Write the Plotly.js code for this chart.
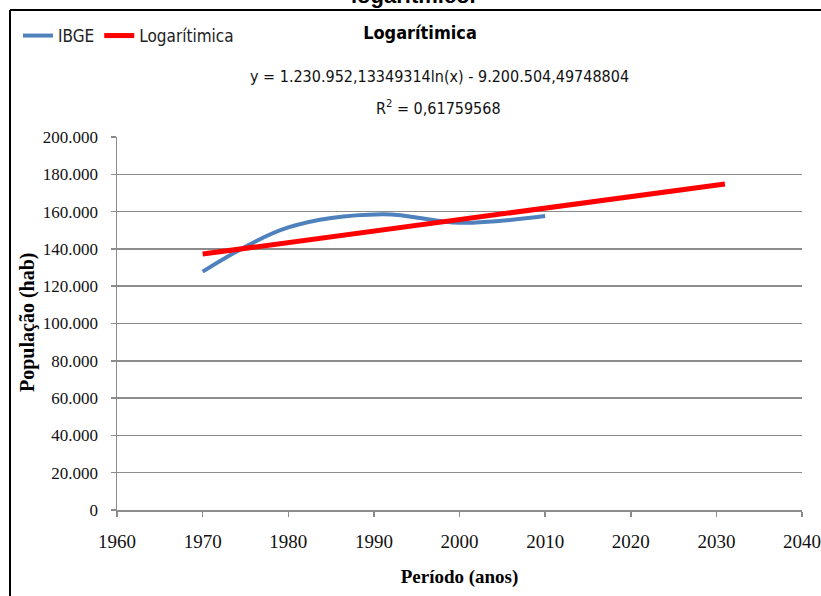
<!DOCTYPE html>
<html>
<head>
<meta charset="utf-8">
<script src="https://cdn.plot.ly/plotly-3.0.1.min.js"></script>
<style>
html,body{margin:0;padding:0;background:#fff;}
#chart{width:821px;height:596px;}
</style>
</head>
<body>
<div id="chart"></div>
<script>
// IBGE census data
const ibgeYears = [1970, 1980, 1991, 2000, 2010];
const ibgePop = [127800, 151500, 158600, 154000, 157600];

// Logarithmic trendline values (from displayed equation) incl. forecast
const trendYears = [1970, 1980, 1990, 2000, 2010, 2020, 2031];
const trendPop = [137239, 143470, 149672, 155841, 161982, 168091, 174776];

const yTicks = [0, 20000, 40000, 60000, 80000, 100000, 120000, 140000, 160000, 180000, 200000];
const xTicks = [1960, 1970, 1980, 1990, 2000, 2010, 2020, 2030, 2040];

const narrow = "Liberation Sans Narrow, DejaVu Sans Condensed, Arial Narrow, sans-serif";
const serif = "Liberation Serif, Times New Roman, serif";

const L = 117, R = 802, T = 137, B = 510;
const px = x => (x - L) / (R - L);
const py = y => (B - y) / (B - T);

const traces = [
  {x: ibgeYears, y: ibgePop, type: 'scatter', mode: 'lines', name: 'IBGE',
   line: {color: '#4f81bd', width: 4, shape: 'spline', smoothing: 1}},
  {x: trendYears, y: trendPop, type: 'scatter', mode: 'lines', name: 'Logarítimica',
   line: {color: '#ff0000', width: 5}}
];

const layout = {
  width: 821, height: 596,
  margin: {l: L, r: 821 - R, t: T, b: 596 - B},
  paper_bgcolor: '#fff', plot_bgcolor: '#fff',
  separators: ',.',
  showlegend: true,
  legend: {orientation: 'h', x: px(18), xanchor: 'left', y: py(18), yanchor: 'top',
           font: {family: narrow, size: 17, color: '#222'}, itemwidth: 30, tracegroupgap: 0,
           bgcolor: 'rgba(0,0,0,0)'},
  title: {text: '<b>Logarítimica</b>', x: 420 / 821, xanchor: 'center', y: 1 - 33 / 596, yanchor: 'middle',
          font: {family: narrow, size: 18, color: '#000'}},
  xaxis: {range: [1960, 2040], tickvals: xTicks, ticktext: xTicks.map(String),
          showgrid: false, zeroline: false, showline: true, linecolor: '#8c8c8c', linewidth: 1.5,
          ticks: 'outside', ticklen: 5, tickcolor: '#8c8c8c', tickwidth: 1.5, ticklabelstandoff: 9,
          tickfont: {family: serif, size: 19, color: '#111'},
          title: {text: '<b>Período (anos)</b>', font: {family: serif, size: 19, color: '#000'}, standoff: 18}},
  yaxis: {range: [0, 200000], tickvals: yTicks, tickformat: ',d',
          showgrid: true, gridcolor: '#8c8c8c', gridwidth: 1.5, zeroline: false,
          showline: true, linecolor: '#8c8c8c', linewidth: 1.5,
          ticks: 'outside', ticklen: 5, tickcolor: '#8c8c8c', tickwidth: 1.5, ticklabelstandoff: 9,
          tickfont: {family: serif, size: 17, color: '#111'}},
  shapes: [
    {type: 'line', xref: 'paper', yref: 'paper', x0: px(10), x1: px(10), y0: py(10), y1: py(600),
     line: {color: '#000', width: 2}},
    {type: 'line', xref: 'paper', yref: 'paper', x0: px(10), x1: px(830), y0: py(10), y1: py(10),
     line: {color: '#000', width: 2}}
  ],
  annotations: [
    {text: '<b>População (hab)</b>', textangle: -90,
     xref: 'paper', yref: 'paper', x: px(27), y: py(323), xanchor: 'center', yanchor: 'middle',
     showarrow: false, font: {family: serif, size: 20, color: '#000'}},
    {text: 'y = 1.230.952,13349314ln(x) - 9.200.504,49748804',
     xref: 'paper', yref: 'paper', x: px(439), y: py(77), xanchor: 'center', yanchor: 'middle',
     showarrow: false, font: {family: narrow, size: 16, color: '#111'}},
    {text: 'R<sup>2</sup> = 0,61759568',
     xref: 'paper', yref: 'paper', x: px(438), y: py(108), xanchor: 'center', yanchor: 'middle',
     showarrow: false, font: {family: narrow, size: 16, color: '#111'}},
    {text: '<b>logarítmico.</b>',
     xref: 'paper', yref: 'paper', x: px(413), y: py(-5), xanchor: 'center', yanchor: 'middle',
     showarrow: false, font: {family: 'Liberation Sans, Arial, sans-serif', size: 22, color: '#000'}}
  ]
};

Plotly.newPlot('chart', traces, layout, {displayModeBar: false, staticPlot: true});
</script>
</body>
</html>
